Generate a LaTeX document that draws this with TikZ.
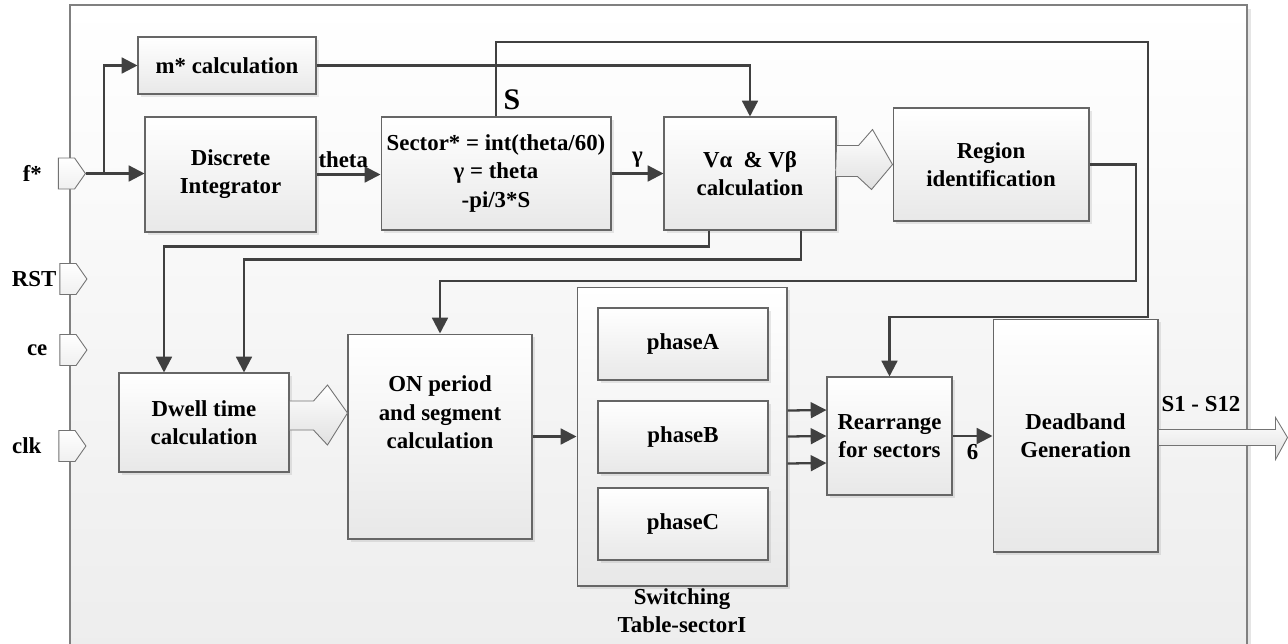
\documentclass[tikz,border=0pt]{standalone}
\usepackage{fontspec}
\setmainfont{Liberation Serif}
\usetikzlibrary{arrows.meta,positioning,shapes.symbols,shadows}

\tikzset{
  bloque/.style={draw=black!60, line width=0.6pt, top color=white, bottom color=black!9,
    drop shadow={shadow xshift=0.06cm, shadow yshift=-0.06cm, opacity=0.18},
    align=center, inner sep=0pt, font=\bfseries\fontsize{13}{16}\selectfont},
  puerto/.style={signal, signal to=east, signal pointer angle=110, draw=black!55,
    line width=0.5pt, top color=white, bottom color=black!6, inner sep=0pt,
    minimum width=0.54cm, minimum height=0.62cm},
  conn/.style={draw=black!75, line width=1.3pt, -{Triangle[length=9pt,width=9pt]}},
  grueso/.style={draw=black!55, line width=0.5pt, top color=white, bottom color=black!12},
  etiq/.style={inner sep=1pt, font=\bfseries\fontsize{13}{16}\selectfont},
  marco/.style={draw=black!50, line width=0.6pt, top color=white, bottom color=black!7},
}

\begin{document}
\begin{tikzpicture}[x=0.02cm, y=-0.02cm]
  % Marco exterior del bloque.
  \useasboundingbox (0,0) rectangle (1288,643);
  \fill[black!10] (74,9) rectangle (1251,650);
  \draw[marco] (70,5) rectangle (1247,650);

  % Puertos de entrada y sus nombres.
  \node[puerto] (pf) at (66.5,173.5) {};
  \node[puerto] (prst) at (68,279) {};
  \node[puerto] (pce) at (68,350) {};
  \node[puerto] (pclk) at (67,446) {};
  \node[etiq, left=0.28cm of pf] (lf) {f*};
  \node[etiq, left=0.02cm of prst] (lrst) {RST};
  \node[etiq, left=0.2cm of pce] (lce) {ce};
  \node[etiq, left=0.3cm of pclk] (lclk) {clk};

  % Bloques de la fila superior.
  \node[bloque, minimum width=3.56cm, minimum height=1.14cm] (mcalc) at (227,65.5) {m* calculation};
  \node[bloque, minimum width=3.42cm, minimum height=2.30cm] (dint) at (230.5,174.5) {Discrete\\Integrator};
  \node[bloque, minimum width=4.60cm, minimum height=2.26cm] (sector) at (496,173.5)
    {Sector* = int(theta/60)\\γ = theta\\-pi/3*S};
  \node[bloque, minimum width=3.44cm, minimum height=2.26cm] (valbe) at (750,173.5) {Vα\enspace\& Vβ\\calculation};
  \node[bloque, minimum width=3.92cm, minimum height=2.26cm] (region) at (991,164.5) {Region\\identification};

  % Bloques de la fila inferior.
  \node[bloque, minimum width=3.40cm, minimum height=1.98cm] (dwell) at (204,422.5) {Dwell time\\calculation};
  \node[bloque, minimum width=3.68cm, minimum height=4.10cm] (onper) at (440,436.5)
    {ON period\\and segment\\calculation\\[0.9em]\mbox{}};
  \node[bloque, minimum width=4.20cm, minimum height=5.98cm] (swt) at (682,436.5) {};
  \foreach \nom/\y in {A/344, B/437, C/524}
    \node[bloque, minimum width=3.40cm, minimum height=1.44cm] (ph\nom) at (683,\y) {phase\nom};
  \node[etiq, align=center, inner sep=0pt, below=1pt of swt] (lswt) {Switching\\Table-sectorI};
  \node[bloque, minimum width=2.50cm, minimum height=2.36cm] (rearr) at (889.5,436) {Rearrange\\for sectors};
  \node[bloque, minimum width=3.30cm, minimum height=4.66cm] (dead) at (1075.5,435.5) {Deadband\\Generation};

  % Conexiones de la fila superior.
  \draw[conn] (pf.east) -- (dint.west |- pf.east);
  \draw[conn] (pf.east) -- ++(18,0) |- (mcalc.west);
  \draw[conn] (dint.east) -- node[etiq, above=2pt, xshift=-3pt] (ltheta) {theta} (sector.west |- dint.east);
  \draw[conn] (sector.east) -- node[etiq, above=2pt] (lgam) {γ} (valbe.west);
  \draw[conn] (mcalc.east) -| (valbe.north);
  \coordinate (s1) at (1148,42);
  \coordinate (s2) at (1148,317);
  \draw[conn] (sector.north) |- (s1) -- (s2) -| (rearr.north);
  \node[etiq, font=\bfseries\fontsize{17}{20}\selectfont] (ls) at (512,100) {S};
  \draw[grueso] ([yshift=0.56cm]valbe.east) -- ++(22,0) -- ++(14,-16) -- (region.west)
    -- ++(-21,25) -- ++(-14,-13) -- ++(-22,0) -- cycle;

  % Conexiones hacia la fila inferior.
  \draw[conn] ([xshift=-0.82cm]valbe.south) -- ++(0,16) -| ([xshift=-0.8cm]dwell.north);
  \draw[conn] ([xshift=1.02cm]valbe.south) -- ++(0,29) -| ([xshift=0.8cm]dwell.north);
  \coordinate (r1) at (1136,281);
  \draw[conn] (region.east) -| (r1) -| (onper.north);
  \draw[grueso] ([yshift=0.43cm]dwell.east) -- ++(24,0) -- ++(14,-16) -- ([yshift=0.47cm]onper.west)
    -- ++(-20,32) -- ++(-14,-15) -- ++(-24,0) -- cycle;
  \draw[conn] (onper.east) -- (swt.west);
  \foreach \d in {0.52,0,-0.54}
    \draw[conn] ([yshift=\d cm]swt.east) -- ([yshift=\d cm]rearr.west);
  \draw[conn] (rearr.east) -- node[etiq, below=3pt] (lseis) {6} (dead.west |- rearr.east);

  % Salida de los pulsos.
  \draw[grueso] ([yshift=0.12cm]dead.east) -- ++(117,0) -- ++(0,-12) -- ++(12,20) coordinate (sal)
    -- ++(-12,22) -- ++(0,-14) -- ++(-117,0) -- cycle;
  \node[etiq] (lsal) at (1201,404) {S1 - S12};
\end{tikzpicture}
\end{document}
